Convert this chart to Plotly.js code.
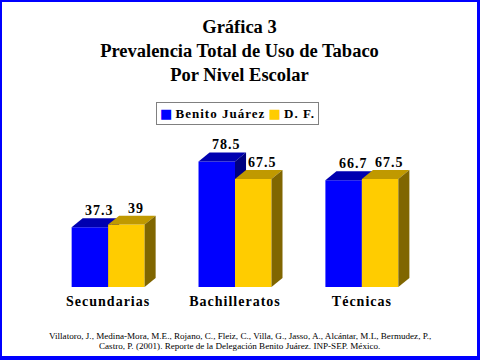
<!DOCTYPE html>
<html><head><meta charset="utf-8">
<script src="https://cdn.plot.ly/plotly-3.0.1.min.js"></script>
<style>
html,body{margin:0;padding:0;background:#0000ff;width:480px;height:360px;overflow:hidden;}
#chart{position:absolute;left:2px;top:2px;width:475px;height:354px;background:#fff;}
.xtick text{letter-spacing:1px;}
</style></head><body><div id="chart"></div>
<script>
// ---- data ----
const categories = ['Secundarias', 'Bachilleratos', 'Técnicas'];
const seriesNames = ['Benito Juárez', 'D. F.'];
const benitoJuarez = [37.3, 78.5, 66.7];
const distritoFederal = [39, 67.5, 67.5];
const titleLines = ['Gráfica 3', 'Prevalencia Total de Uso de Tabaco', 'Por Nivel Escolar'];
const sourceLines = [
  'Villatoro, J., Medina-Mora, M.E., Rojano, C., Fleiz, C., Villa, G., Jasso, A., Alcántar, M.L, Bermudez, P.,',
  'Castro, P. (2001). Reporte de la Delegación Benito Juárez. INP-SEP. México.'
];

// ---- style ----
const positions = categories.map((_, i) => i);
const BARGAP = 0.425;
const W = (1 - BARGAP) / 2;   // bar width in axis units
const DX = 0.087;              // depth (x units)
const DY = 5.6;                // depth (y units)
const FONT = 'Liberation Serif, Times New Roman, serif';
const palette = [
  {front: '#0000ff', top: '#0000b0', side: '#000080'},
  {front: '#ffcc00', top: '#c09900', side: '#806600'}
];
const seriesValues = [benitoJuarez, distritoFederal];

const traces = [];
const annotations = [];
seriesValues.forEach((vals, s) => {
  const col = palette[s];
  const z = s + 1;
  traces.push({
    type: 'bar', name: seriesNames[s], x: positions, y: vals,
    marker: {color: col.front, line: {width: 0}},
    hoverinfo: 'skip', zorder: z, showlegend: false
  });
  vals.forEach((v, i) => {
    const left = positions[i] + (s === 0 ? -W : 0);
    const right = left + W;
    traces.push({
      type: 'scatter', mode: 'lines', fill: 'toself', showlegend: false, hoverinfo: 'skip',
      x: [left, right, right + DX, left + DX, left],
      y: [v, v, v + DY, v + DY, v],
      fillcolor: col.top, line: {width: 0, color: col.top}, zorder: z
    });
    traces.push({
      type: 'scatter', mode: 'lines', fill: 'toself', showlegend: false, hoverinfo: 'skip',
      x: [right, right + DX, right + DX, right, right],
      y: [0, DY, v + DY, v, 0],
      fillcolor: col.side, line: {width: 0, color: col.side}, zorder: z
    });
    annotations.push({
      x: (left + right) / 2 + DX * 0.85, y: v + DY, xref: 'x', yref: 'y',
      yanchor: 'bottom', xanchor: 'center', showarrow: false, yshift: -2,
      text: '<span style="letter-spacing:1px">' + String(v) + '</span>',
      font: {family: FONT, size: 14, weight: 'bold', color: '#000'}
    });
  });
});

// legend built as a bordered text box
annotations.push({
  xref: 'paper', yref: 'paper', x: 0.505, y: 1.083, xanchor: 'center', yanchor: 'middle',
  showarrow: false, bordercolor: '#808080', borderwidth: 1, borderpad: 3, bgcolor: '#ffffff',
  text: seriesNames.map((n, s) =>
    '<span style="color:' + palette[s].front + ';font-family:DejaVu Sans">■</span> <span style="letter-spacing:1px">' + n + '</span>'
  ).join(' '),
  font: {family: FONT, size: 13, weight: 'bold', color: '#000'}
});

// source lines
const srcY = [-0.308, -0.366];
sourceLines.forEach((t, k) => {
  annotations.push({
    xref: 'paper', yref: 'paper', x: 0.512, y: srcY[k], xanchor: 'center', yanchor: 'middle',
    showarrow: false, text: t, font: {family: FONT, size: 9.1, color: '#000'}
  });
});

const layout = {
  width: 475, height: 354,
  margin: {l: 30, r: 39, t: 125, b: 69},
  paper_bgcolor: '#ffffff', plot_bgcolor: '#ffffff',
  barmode: 'group', bargap: BARGAP, bargroupgap: 0,
  showlegend: false,
  title: {
    text: titleLines.join('<br>'),
    font: {family: FONT, size: 18.5, weight: 'bold', color: '#000'},
    x: 0.5, xref: 'container', xanchor: 'center',
    y: 1 - 31 / 354, yref: 'container', yanchor: 'top'
  },
  xaxis: {
    range: [-0.6, 2.6], tickvals: positions, ticktext: categories,
    showgrid: false, zeroline: false, showline: false, ticks: '', fixedrange: true,
    ticklabelstandoff: 4,
    tickfont: {family: FONT, size: 14, weight: 'bold', color: '#000'}
  },
  yaxis: {range: [0, 100], visible: false, fixedrange: true},
  annotations: annotations
};

Plotly.newPlot('chart', traces, layout, {staticPlot: true, displayModeBar: false});
</script></body></html>
